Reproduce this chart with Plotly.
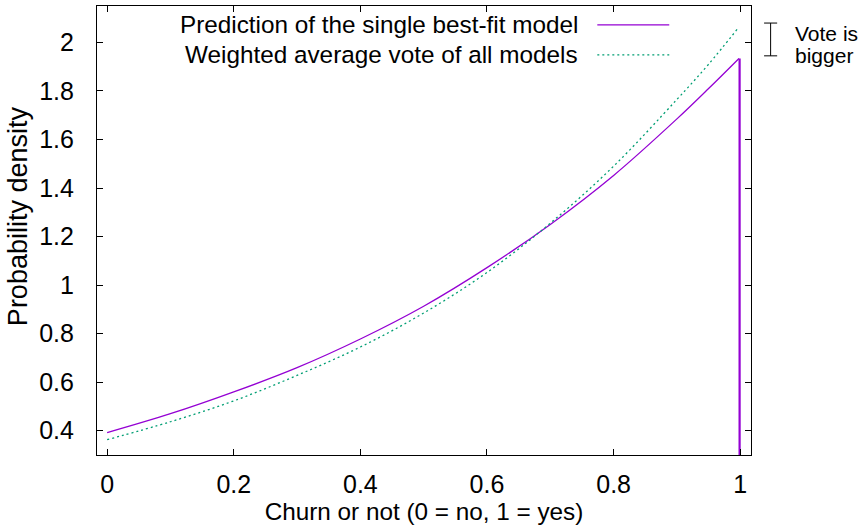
import plotly.graph_objects as go

# --- data ---
x_best = [0.0, 0.1, 0.2, 0.3, 0.4, 0.5, 0.6, 0.7, 0.8, 0.9, 0.95, 0.998]
y_best = [0.392, 0.47, 0.56, 0.66, 0.778, 0.913, 1.072, 1.25, 1.452, 1.685, 1.81, 1.934]
x_drop = [0.999, 0.999]
y_drop = [1.934, 0.0]

x_vote = [0.0, 0.1, 0.2, 0.3, 0.4, 0.5, 0.6, 0.7, 0.8, 0.9, 0.95, 0.996]
y_vote = [0.363, 0.437, 0.523, 0.628, 0.745, 0.885, 1.052, 1.255, 1.49, 1.765, 1.91, 2.057]

x_ticks = [0, 0.2, 0.4, 0.6, 0.8, 1]
x_ticktext = ["0", "0.2", "0.4", "0.6", "0.8", "1"]
y_ticks = [0.4, 0.6, 0.8, 1.0, 1.2, 1.4, 1.6, 1.8, 2.0]
y_ticktext = ["0.4", "0.6", "0.8", "1", "1.2", "1.4", "1.6", "1.8", "2"]

legend_labels = ["Prediction of the single best-fit model", "Weighted average vote of all models"]
note_lines = ["Vote is", "bigger"]

PURPLE = "#9400D3"
GREEN = "#009E73"
FONT = "Liberation Sans, Arial, sans-serif"

fig = go.Figure()
fig.add_trace(go.Scatter(x=x_best, y=y_best, mode="lines", line=dict(color=PURPLE, width=1.3, shape="spline", smoothing=1.0), showlegend=False))
fig.add_trace(go.Scatter(x=x_drop, y=y_drop, mode="lines", line=dict(color=PURPLE, width=2.2), showlegend=False))
fig.add_trace(go.Scatter(x=x_vote, y=y_vote, mode="lines", line=dict(color=GREEN, width=1.3, dash="2px,3px", shape="spline", smoothing=1.0), showlegend=False))

axis_common = dict(showline=True, linecolor="black", linewidth=1.2, mirror="allticks", ticks="inside",
                   ticklen=6, tickcolor="black", showgrid=False, zeroline=False,
                   tickfont=dict(family=FONT, size=25, color="black"))

fig.update_xaxes(range=[-0.016, 1.017], tickvals=x_ticks, ticktext=x_ticktext, ticklabelstandoff=7,
                 title=dict(text="Churn or not (0 = no, 1 = yes)", font=dict(family=FONT, size=24.3, color="black"), standoff=4),
                 **axis_common)
fig.update_yaxes(range=[0.3, 2.15], tickvals=y_ticks, ticktext=y_ticktext, ticklabelstandoff=17,
                 **axis_common)

# y-axis title as rotated annotation (positioned as in reference)
fig.add_annotation(x=-0.1208, y=0.532, xref="paper", yref="paper", text="Probability density", showarrow=False,
                   textangle=-90, xanchor="center", yanchor="middle", font=dict(family=FONT, size=27, color="black"))

# legend drawn manually (gnuplot style: text right-aligned, sample to the right)
legend_y = [0.958, 0.891]
legend_styles = [dict(color=PURPLE, width=1.3), dict(color=GREEN, width=1.3, dash="2px,3px")]
for lab, yy, st in zip(legend_labels, legend_y, legend_styles):
    fig.add_annotation(x=0.739, y=yy, xref="paper", yref="paper", text=lab, showarrow=False,
                       xanchor="right", yanchor="middle", font=dict(family=FONT, size=24.3, color="black"))
    fig.add_shape(type="line", xref="paper", yref="paper", x0=0.765, x1=0.875, y0=yy, y1=yy, line=st)

# "Vote is bigger" marker outside the plot
bx = 1.03
fig.add_shape(type="line", xref="paper", yref="paper", x0=bx, x1=bx, y0=0.889, y1=0.962, line=dict(color="black", width=1))
for yy in (0.889, 0.962):
    fig.add_shape(type="line", xref="paper", yref="paper", x0=bx - 0.01, x1=bx + 0.01, y0=yy, y1=yy, line=dict(color="black", width=1))
fig.add_annotation(x=1.064, y=0.938, xref="paper", yref="paper", text=note_lines[0], showarrow=False,
                   xanchor="left", yanchor="middle", font=dict(family=FONT, size=21, color="black"))
fig.add_annotation(x=1.064, y=0.889, xref="paper", yref="paper", text=note_lines[1], showarrow=False,
                   xanchor="left", yanchor="middle", font=dict(family=FONT, size=21, color="black"))

fig.update_layout(width=865, height=530, margin=dict(l=97, r=114, t=6, b=75),
                  plot_bgcolor="white", paper_bgcolor="white", font=dict(family=FONT))
fig.write_html("out.html")
